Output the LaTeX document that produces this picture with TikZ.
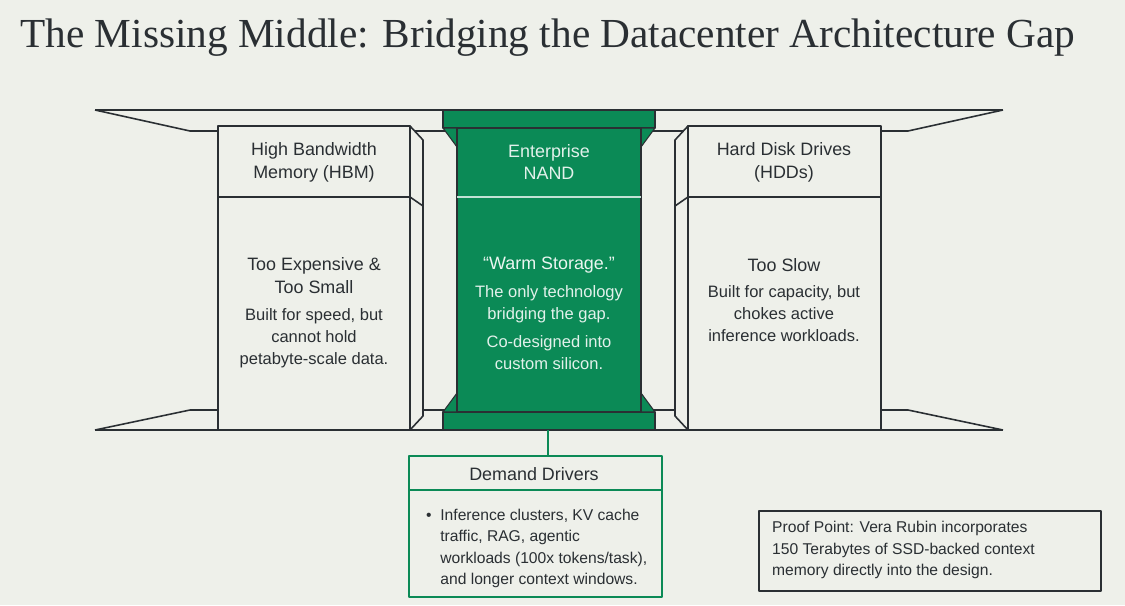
\documentclass[tikz,border=0pt]{standalone}
\usepackage{fontspec}
\setmainfont{Liberation Sans}
\newfontfamily\titlefont{Liberation Serif}
\usetikzlibrary{positioning}
\definecolor{paper}{HTML}{EEF0EA}
\definecolor{nand}{HTML}{0B8A56}
\definecolor{ink}{HTML}{2A2F33}
\tikzset{
  edge/.style={draw=ink, line width=0.9pt},
  txt/.style={align=center, font=\fontsize{9.4}{12.5}\selectfont, text=ink},
  head/.style={txt, font=\fontsize{10.2}{13}\selectfont},
  note/.style={txt, align=left, font=\fontsize{8.9}{12.2}\selectfont},
}
\begin{document}
\begin{tikzpicture}[x=0.02cm, y=-0.02cm, line join=round]
\fill[paper] (0,0) rectangle (1125,605);
\useasboundingbox (0,0) rectangle (1125,605);

% title
\node[anchor=west, text=ink, inner sep=0pt, font=\titlefont\fontsize{23.5}{26}\selectfont] (title) at (20,38) {The Missing Middle: Bridging the Datacenter Architecture Gap};

% bridge frame
\draw[edge] (95,110) -- (1003,110);
\draw[edge] (95,430) -- (1003,430);
\draw[edge] (95,110) -- (190,131) -- (908,131) -- (1003,110);
\draw[edge] (95,430) -- (190,410) -- (908,410) -- (1003,430);

% HBM block
\draw[edge, fill=paper] (410,126) -- (423,140) -- (423,416) -- (410,430) -- cycle;
\draw[edge] (410,197) -- (423,206);
\draw[edge, fill=paper] (218,126) rectangle (410,430);
\draw[edge] (218,197) -- (410,197);
\node[head] (hbm) at (314,162) {High Bandwidth\\Memory (HBM)};
\node[head] (hbmbad) at (314,276) {Too Expensive \&\\Too Small};
\node[txt, below=1pt of hbmbad] (hbmtxt) {Built for speed, but\\cannot hold\\petabyte-scale data.};

% HDD block
\draw[edge, fill=paper] (688,126) -- (675,140) -- (675,416) -- (688,430) -- cycle;
\draw[edge] (688,197) -- (675,206);
\draw[edge, fill=paper] (688,126) rectangle (881,430);
\draw[edge] (688,197) -- (881,197);
\node[head] (hdd) at (784,162) {Hard Disk Drives\\(HDDs)};
\node[head] (hddbad) at (784,265) {Too Slow};
\node[txt, below=1pt of hddbad] (hddtxt) {Built for capacity, but\\chokes active\\inference workloads.};

% NAND column
\fill[nand] (457,127) rectangle (641,412);
\draw[ink, line width=0.6pt, fill=nand] (443,110) rectangle (655,128);
\draw[ink, line width=0.6pt, fill=nand] (443,412) rectangle (655,430);
\draw[ink, line width=0.6pt, fill=nand] (443,128) -- (457,128) -- (457,147) -- cycle;
\draw[ink, line width=0.6pt, fill=nand] (655,128) -- (641,128) -- (641,147) -- cycle;
\draw[ink, line width=0.6pt, fill=nand] (443,412) -- (457,412) -- (457,393) -- cycle;
\draw[ink, line width=0.6pt, fill=nand] (655,412) -- (641,412) -- (641,393) -- cycle;
\draw[ink, line width=0.6pt] (457,128) -- (457,412) (641,128) -- (641,412);
\draw[white!75!nand, line width=0.8pt] (457,197) -- (641,197);
\node[head, text=white!88!nand] (nandhead) at (549,162) {Enterprise\\NAND};
\node[head, text=white!92!nand] (warm) at (549,265) {``Warm Storage.''};
\node[txt, text=white!88!nand, below=0pt of warm] (only) {The only technology\\bridging the gap.};
\node[txt, text=white!88!nand, below=0pt of only] (codes) {Co-designed into\\custom silicon.};
\coordinate (nandfoot) at (548,430);

% demand drivers
\node[draw=nand, line width=1pt, fill=paper, inner sep=0pt,
      minimum width=5.06cm, minimum height=2.82cm, anchor=north west] (demand) at (408,455) {};
\draw[nand, line width=1pt] (408,490) -- (661,490);
\node[head] (demandhead) at (534,474) {Demand Drivers};
\node[note, anchor=north west] (demandtxt) at (420,503)
  {\textbullet\ \ Inference clusters, KV cache\\\phantom{\textbullet\ \ }traffic, RAG, agentic\\\phantom{\textbullet\ \ }workloads (100x tokens/task),\\\phantom{\textbullet\ \ }and longer context windows.};
\draw[nand, line width=1pt] (nandfoot) -- (demand.north -| nandfoot);

% proof point
\node[draw=ink, line width=1pt, fill=paper, minimum width=6.84cm, minimum height=1.6cm, anchor=north west] (proof) at (758,510) {};
\node[note, anchor=west] (prooftxt) at (766,550)
  {Proof Point: Vera Rubin incorporates\\150 Terabytes of SSD-backed context\\memory directly into the design.};
\end{tikzpicture}
\end{document}
